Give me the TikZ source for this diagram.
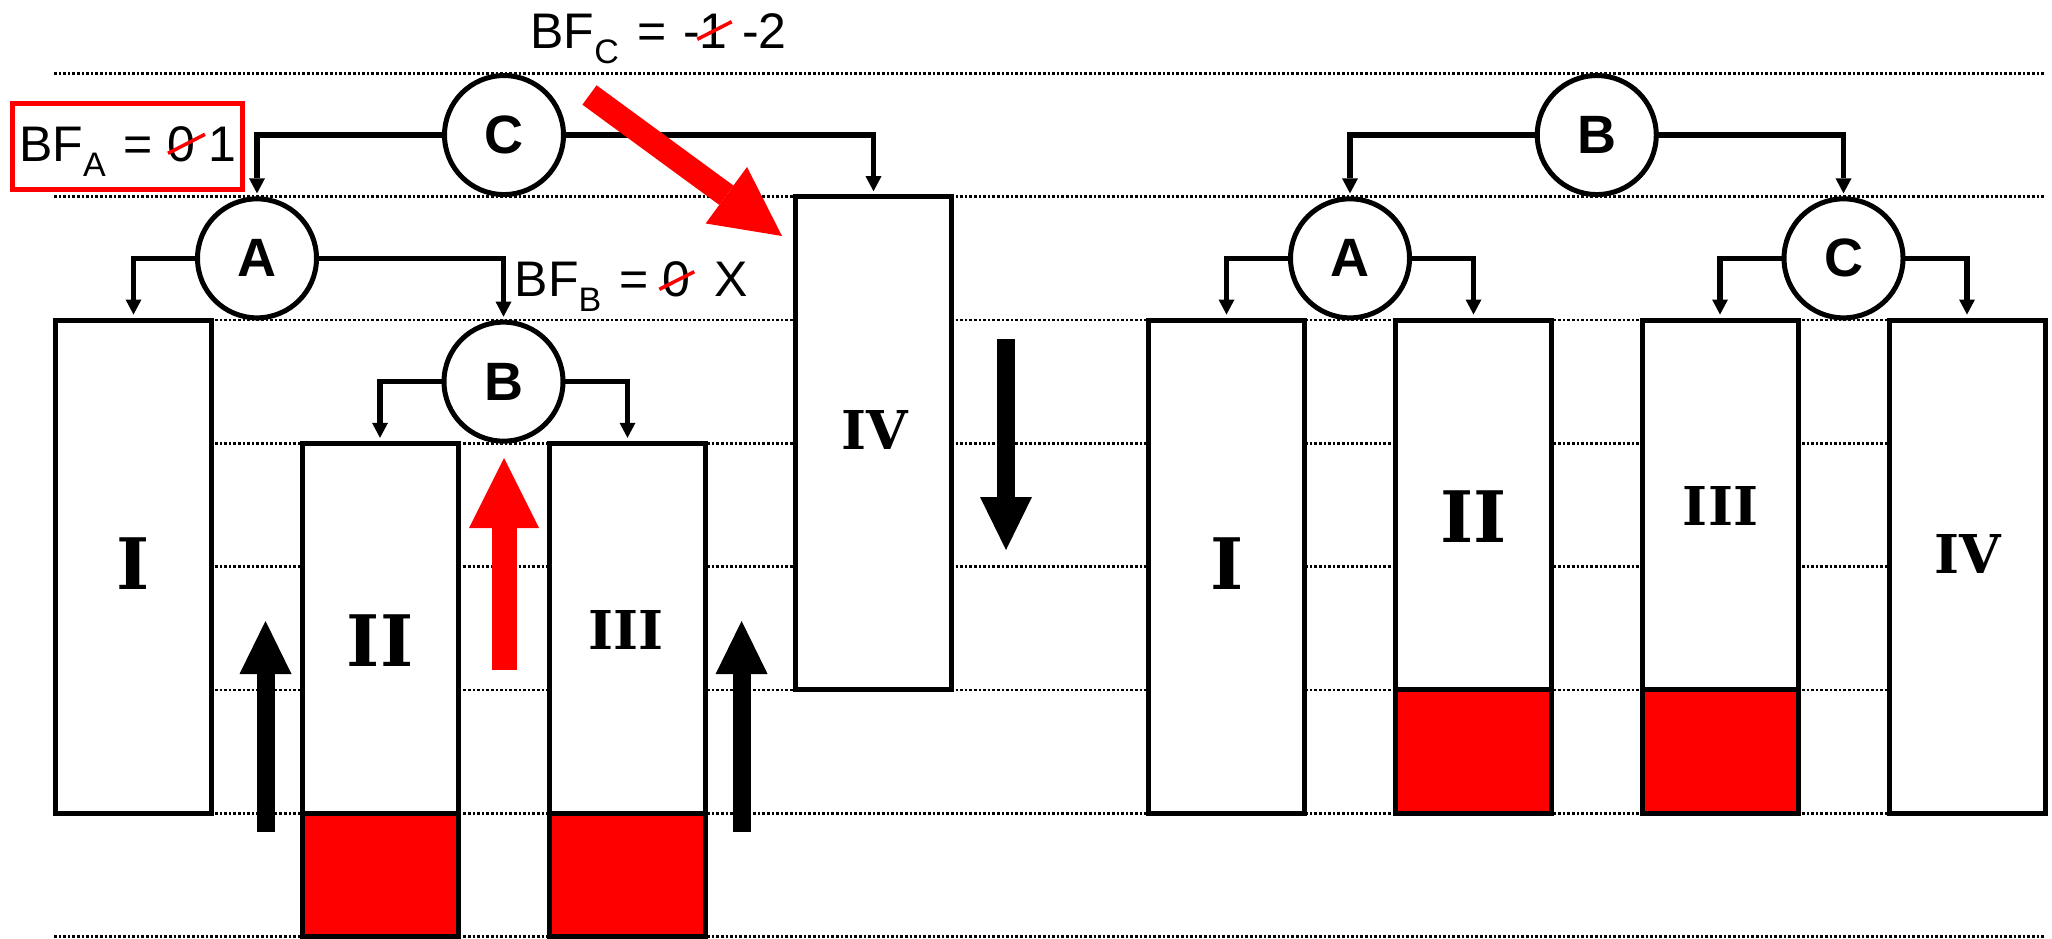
\documentclass[tikz,border=0pt]{standalone}
\usepackage{fontspec}
\setmainfont{Liberation Sans}
\newfontfamily\numfont{DejaVu Serif}
\usetikzlibrary{arrows.meta,calc}
\newcommand{\mysub}[1]{\raisebox{-15pt}{\fontsize{34}{34}\selectfont #1}}
\tikzset{
  box/.style={draw, line width=5pt, fill=white, minimum width=156pt, minimum height=493.2pt, inner sep=0pt, outer sep=0pt},
  redpart/.style={draw, line width=5pt, fill=red},
  circ/.style={circle, draw, line width=5pt, fill=white, minimum size=119pt, inner sep=0pt, outer sep=0pt, font=\fontsize{54}{54}\selectfont\bfseries},
  conn/.style={line width=5.5pt, -{Triangle[width=16pt,length=15pt,line width=0pt]}},
  gridline/.style={line width=2.7pt, dash pattern=on 2.5pt off 2.1pt},
  numbig/.style={inner sep=0pt, font=\numfont\bfseries\fontsize{71}{71}\selectfont},
  numsmall/.style={inner sep=0pt, font=\numfont\bfseries\fontsize{53.5}{53.5}\selectfont},
  lbl/.style={inner sep=0pt, font=\fontsize{50}{50}\selectfont},
  strike/.style={red, line width=3.5pt},
  bigblack/.style={line width=18pt, -{Triangle[width=52pt,length=53pt,line width=0pt]}},
  bigred/.style={red, line width=25pt, -{Triangle[width=70pt,length=70pt,line width=0pt]}}
}
\begin{document}
\begin{tikzpicture}[x=1pt,y=-1pt]
\useasboundingbox (0,0) rectangle (2052,939);
\fill[white] (0,0) rectangle (2052,939);
% level coordinates
\foreach \k in {0,...,7} {
  \coordinate (l\k) at (0,{73.4+123.3*\k});
  \draw[gridline] (54,{73.4+123.3*\k}) -- (2044,{73.4+123.3*\k});
}
% left boxes
\node[box] (IL)   at (133.5,566.6) {};
\node[box] (IIL)  at (380,689.9) {};
\node[box] (IIIL) at (627.5,689.9) {};
\node[box] (IVL)  at (873.5,443.3) {};
\draw[redpart] (IIL.south west) rectangle (IIL.east |- l6);
\draw[redpart] (IIIL.south west) rectangle (IIIL.east |- l6);
% right boxes
\node[box] (IR)   at (1226.5,566.6) {};
\node[box] (IIR)  at (1473.5,566.6) {};
\node[box] (IIIR) at (1720,566.6) {};
\node[box] (IVR)  at (1967,566.6) {};
\draw[redpart] (IIR.south west |- l6) rectangle (IIR.east |- l5);
\draw[redpart] (IIIR.south west |- l6) rectangle (IIIR.east |- l5);
% circles
\node[circ] (CL) at (504,135.05) {C};
\node[circ] (AL) at (257,258.35) {A};
\node[circ] (BL) at (503.5,381.65) {B};
\node[circ] (BR) at (1596.75,135.05) {B};
\node[circ] (AR) at (1350,258.35) {A};
\node[circ] (CR) at (1843.5,258.35) {C};
% connectors
\draw[conn] (CL.west) -| ([yshift=5.5pt]AL.north);
\draw[conn] (CL.east) -| ([yshift=5.5pt]IVL.north);
\draw[conn] (AL.west) -| ([yshift=5.5pt]IL.north);
\draw[conn] (AL.east) -| ([yshift=5.5pt]BL.north);
\draw[conn] (BL.west) -| ([yshift=5.5pt]IIL.north);
\draw[conn] (BL.east) -| ([yshift=5.5pt]IIIL.north);
\draw[conn] (BR.west) -| ([yshift=5.5pt]AR.north);
\draw[conn] (BR.east) -| ([yshift=5.5pt]CR.north);
\draw[conn] (AR.west) -| ([yshift=5.5pt]IR.north);
\draw[conn] (AR.east) -| ([yshift=5.5pt]IIR.north);
\draw[conn] (CR.west) -| ([yshift=5.5pt]IIIR.north);
\draw[conn] (CR.east) -| ([yshift=5.5pt]IVR.north);
% big arrows
\coordinate (ua1b) at (265.5,832);  \coordinate (ua1t) at (265.5,621);
\coordinate (ua2b) at (741.6,832);  \coordinate (ua2t) at (741.6,621);
\coordinate (dat)  at (1006,339);   \coordinate (dab)  at (1006,550);
\coordinate (rub)  at (504,670);    \coordinate (rut)  at (504,458);
\coordinate (rds)  at (589.5,95);   \coordinate (rde)  at (782,236);
\draw[bigblack] (ua1b) -- (ua1t);
\draw[bigblack] (ua2b) -- (ua2t);
\draw[bigblack] (dat) -- (dab);
\draw[bigred] (rub) -- (rut);
\draw[bigred, line width=24pt, -{Triangle[width=70pt,length=69pt,line width=0pt]}] (rds) -- (rde);
% roman numerals
\node[numbig]   (tIL)   at (133.4,564) {I};
\node[numbig]   (tIIL)  at (380,640.7) {II};
\node[numsmall] (tIIIL) at (626,629.7) {III};
\node[numsmall] (tIVL)  at (875,429.5) {IV};
\node[numbig]   (tIR)   at (1226.7,564) {I};
\node[numbig]   (tIIR)  at (1473.4,517) {II};
\node[numsmall] (tIIIR) at (1720.5,506) {III};
\node[numsmall] (tIVR)  at (1968,553.5) {IV};
% BF_A
\node[draw=red, line width=5pt, inner sep=0pt, minimum width=230pt, minimum height=85.7pt] (bfabox) at (127.5,146.3) {};
\node[lbl, anchor=base west] (bfaT) at (19,161.7) {BF\mysub{A}};
\node[lbl, anchor=base] (bfaEq) at (138.3,161.7) {=};
\node[lbl, anchor=base] (bfa0) at (181.5,161.7) {0};
\node[lbl, anchor=base] (bfa1) at (222.5,161.7) {1};
\draw[strike] ($(bfa0.base)+(-13.5,-8.4)$) -- ($(bfa0.base)+(23.5,-27.4)$);
% BF_B
\node[lbl, anchor=base west] (bfbT) at (514.6,296.7) {BF\mysub{B}};
\node[lbl, anchor=base] (bfbEq) at (634.2,296.7) {=};
\node[lbl, anchor=base] (bfb0) at (676.5,296.7) {0};
\node[lbl, anchor=base] (bfbX) at (730.8,296.7) {X};
\draw[strike] ($(bfb0.base)+(-17.2,-7.4)$) -- ($(bfb0.base)+(17.8,-25)$);
% BF_C
\node[lbl, anchor=base west] (bfcT) at (530.3,48.3) {BF\mysub{C}};
\node[lbl, anchor=base] (bfcEq) at (652.5,48.3) {=};
\node[lbl, anchor=base west] (bfc1) at (683,48.3) {-1};
\node[lbl, anchor=base west] (bfc2) at (741.8,48.3) {-2};
\draw[strike] ($(bfc1.base west)+(14.3,-9)$) -- ($(bfc1.base west)+(48.7,-26.6)$);
\end{tikzpicture}
\end{document}
